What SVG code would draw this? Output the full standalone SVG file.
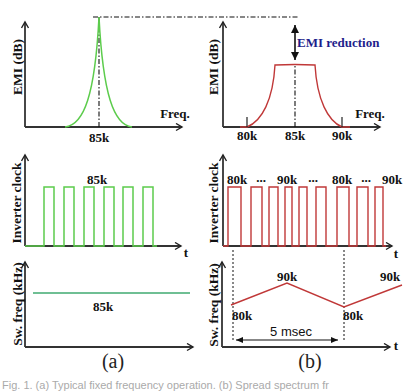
<svg xmlns="http://www.w3.org/2000/svg" width="420" height="392" viewBox="0 0 420 392">
<defs>
<marker id="ax" markerUnits="userSpaceOnUse" markerWidth="10" markerHeight="10" refX="7" refY="4" orient="auto">
<path d="M1,0.5 L7,4 L1,7.5" fill="none" stroke="#222" stroke-width="1.4"/>
</marker>
<marker id="fa" markerUnits="userSpaceOnUse" markerWidth="10" markerHeight="10" refX="8" refY="4" orient="auto-start-reverse">
<path d="M0,0 L8,4 L0,8 Z" fill="#111"/>
</marker>
<marker id="sa" markerUnits="userSpaceOnUse" markerWidth="10" markerHeight="8" refX="7" refY="3" orient="auto-start-reverse">
<path d="M0,0 L7,3 L0,6 Z" fill="#111"/>
</marker>
</defs>
<style>
.axis{fill:none;stroke:#333;stroke-width:1.8;marker-end:url(#ax)}
.lbl{font-family:"Liberation Serif",serif;font-weight:bold;font-size:13px;fill:#111;text-anchor:middle}
.ylbl{font-family:"Liberation Serif",serif;font-weight:bold;font-size:13.5px;fill:#111;text-anchor:middle}
.dd{fill:none;stroke:#111;stroke-width:1.1;stroke-dasharray:5 2 1.5 2}
.dot{fill:none;stroke:#111;stroke-width:1;stroke-dasharray:2 2}
.g{fill:none;stroke:#5ccc4c;stroke-width:1.5}
.r{fill:none;stroke:#c03838;stroke-width:1.4}
.cap{font-family:"Liberation Serif",serif;font-size:20px;fill:#222;text-anchor:middle}
</style>
<rect width="420" height="392" fill="#fff"/>

<g id="panel-a-emi">
<path class="axis" d="M25,127 V22"/>
<path class="axis" d="M25,127 H182"/>
<path class="dd" d="M99,127 V17"/>
<path class="g" d="M65,127 C84,125 95,95 99,17 C103,95 114,125 132,127"/>
<text class="ylbl" transform="translate(22,67) rotate(-90)">EMI (dB)</text>
<text class="lbl" x="175" y="118">Freq.</text>
<text class="lbl" x="99" y="142">85k</text>
</g>

<g id="panel-b-emi">
<path class="axis" d="M223,127 V22"/>
<path class="axis" d="M223,127 H380"/>
<path class="dd" d="M295,127 V66"/>
<path class="r" d="M240,127 H247 C262,121 273,100 275,65 Q295,64 315,65 C317,100 328,121 342,127 H350"/>
<path d="M247,117 V127 M342,117 V127" stroke="#222" stroke-width="1.2"/>
<text class="ylbl" transform="translate(218,67) rotate(-90)">EMI (dB)</text>
<text class="lbl" x="370" y="118">Freq.</text>
<text class="lbl" x="247" y="140">80k</text>
<text class="lbl" x="295" y="140">85k</text>
<text class="lbl" x="342" y="140">90k</text>
<text class="lbl" x="297" y="47" style="text-anchor:start;fill:#1e1e8c">EMI reduction</text>
</g>

<g id="connectors">
<path class="dd" d="M93,17 H298"/>
<path d="M295,25 V60" stroke="#111" stroke-width="1.6" fill="none" marker-start="url(#fa)" marker-end="url(#fa)"/>
<path class="dot" d="M233,250 V340"/>
<path class="dot" d="M344,250 V340"/>
<path d="M236,340 H338" stroke="#111" stroke-width="1.2" fill="none" marker-start="url(#sa)" marker-end="url(#sa)"/>
</g>

<g id="panel-a-clock">
<path class="axis" d="M25,246 V155"/>
<path class="axis" d="M25,246 H181"/>
<path class="g" d="M25,246 H44 V187 H54 V246 H64 V187 H74 V246 H84 V187 H94 V246 H104 V187 H114 V246 H123 V187 H133 V246 H143 V187 H153 V246 H157"/>
<text class="ylbl" transform="translate(21,203) rotate(-90)">Inverter clock</text>
<text class="lbl" x="97" y="184">85k</text>
<text class="lbl" x="186" y="257">t</text>
</g>

<g id="panel-b-clock">
<path class="axis" d="M223,246 V155"/>
<path class="axis" d="M223,246 H392"/>
<path class="r" d="M223,246 H228 V187 H241 V246 H251 V187 H262 V246 H269 V187 H278 V246 H285 V187 H292 V246 H299 V187 H307 V246 H316 V187 H326 V246 H337 V187 H349 V246 H357 V187 H368 V246 H375 V187 H383 V246 H386"/>
<text class="ylbl" transform="translate(218,203) rotate(-90)">Inverter clock</text>
<text class="lbl" x="237" y="184">80k</text>
<text class="lbl" x="261" y="182">...</text>
<text class="lbl" x="287" y="184">90k</text>
<text class="lbl" x="313" y="182">...</text>
<text class="lbl" x="342" y="184">80k</text>
<text class="lbl" x="366" y="182">...</text>
<text class="lbl" x="392" y="184">90k</text>
<text class="lbl" x="396" y="258">t</text>
</g>

<g id="panel-a-freq">
<path class="axis" d="M25,347 V262"/>
<path class="axis" d="M25,347 H193"/>
<path d="M33,293 H190" stroke="#6fbf94" stroke-width="2" fill="none"/>
<text class="ylbl" transform="translate(22,304) rotate(-90)">Sw. freq (kHz)</text>
<text class="lbl" x="103" y="311">85k</text>
<text class="cap" x="113" y="368">(a)</text>
</g>

<g id="panel-b-freq">
<path class="axis" d="M222,347 V262"/>
<path class="axis" d="M222,347 H390"/>
<path class="r" d="M231,305 L287,283 L344,307 L402,285"/>
<text class="ylbl" transform="translate(218,305) rotate(-90)">Sw. freq (kHz)</text>
<text class="lbl" x="287" y="281">90k</text>
<text class="lbl" x="390" y="281">90k</text>
<text class="lbl" x="232" y="320" style="text-anchor:start">80k</text>
<text class="lbl" x="343" y="320" style="text-anchor:start">80k</text>
<text x="291" y="336" style="font-family:'Liberation Sans',sans-serif;font-size:13px;fill:#111;text-anchor:middle">5 msec</text>
<text class="lbl" x="396" y="350">t</text>
<text class="cap" x="310" y="368">(b)</text>
</g>

<text x="2" y="389" style="font-family:'Liberation Sans',sans-serif;font-size:11px;fill:#aaa">Fig. 1.   (a) Typical fixed frequency operation. (b) Spread spectrum fr</text>
</svg>
